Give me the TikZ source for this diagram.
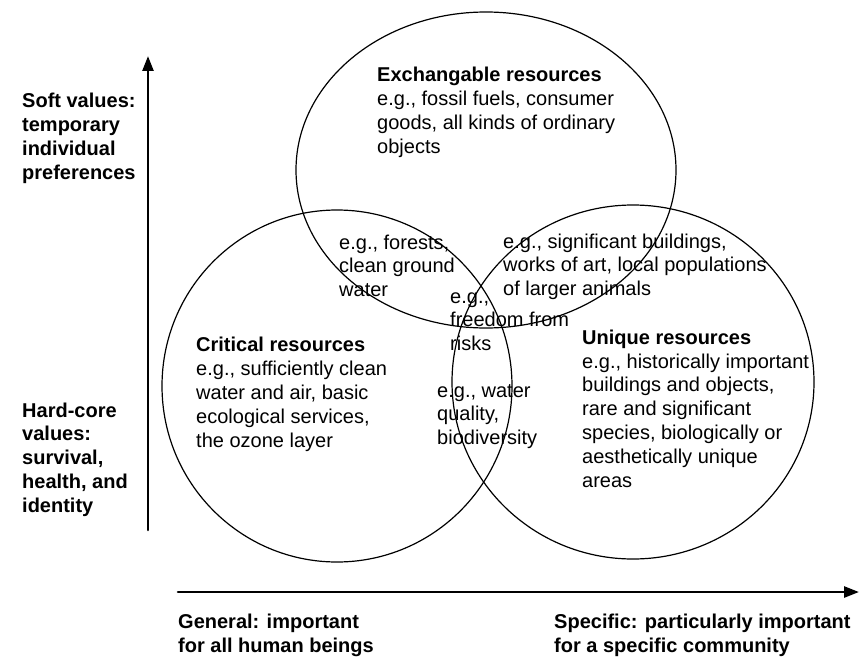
\documentclass[tikz,border=0pt]{standalone}
\usepackage{fontspec}
\setmainfont{Liberation Sans}
\usetikzlibrary{arrows.meta}
\tikzset{
  venn/.style={line width=1.2pt},
  axis/.style={line width=2.6pt,-{Triangle[length=15pt,width=11pt]}},
  % anchor is the baseline of the last line
  txt/.style={anchor=base west,align=left,inner sep=0pt,font=\fontsize{20}{23.8}\selectfont},
  axislbl/.style={txt,font=\fontsize{20}{23.7}\selectfont\bfseries},
}
\begin{document}
\begin{tikzpicture}[x=1pt,y=-1pt,line join=round,line cap=round]
		\useasboundingbox (0,0) rectangle (861,658);
		%%%%%%%%%%%%%%%
		\draw[venn] (486,170) ellipse [x radius=190, y radius=158];
		\draw[venn] (337,386) ellipse [x radius=175, y radius=176];
		\draw[venn] (633,382) ellipse [x radius=181, y radius=177];
		%%%%%%%%%%%%%%%
		\coordinate (ybot) at (148,530);
		\coordinate (ytop) at (148,56);
		\coordinate (xleft) at (178,592);
		\coordinate (xright) at (859,592);
		\draw[axis] (ybot) -- (ytop);
		\draw[axis] (xleft) -- (xright);
		%%%%%%%%%%%%%%%
		\node[txt] (exch) at (377,153) {\textbf{Exchangable resources}\\e.g., fossil fuels, consumer\\goods, all kinds of ordinary\\objects};
		\node[txt] (crit) at (196,447) {\textbf{Critical resources}\\e.g., sufficiently clean\\water and air, basic\\ecological services,\\the ozone layer};
		\node[txt] (uniq) at (582,487) {\textbf{Unique resources}\\e.g., historically important\\buildings and objects,\\rare and significant\\species, biologically or\\aesthetically unique\\areas};
		\node[txt] (forests) at (339,296.6) {e.g., forests,\\clean ground\\water};
		\node[txt] (build) at (503,295.6) {e.g., significant buildings,\\works of art, local populations\\of larger animals};
		\node[txt] (risks) at (450,350.6) {e.g.,\\freedom from\\risks};
		\node[txt] (water) at (437,444.6) {e.g., water\\quality,\\biodiversity};
		%%%%%%%%%%%%%%%
		\node[axislbl] (soft) at (22,179) {Soft values:\\temporary\\individual\\preferences};
		\node[axislbl] (hard) at (22,512) {Hard-core\\values:\\survival,\\health, and\\identity};
		\node[axislbl] (general) at (178,652) {General: important\\for all human beings};
		\node[axislbl] (specific) at (554,652) {Specific: particularly important\\for a specific community};
\end{tikzpicture}
\end{document}
